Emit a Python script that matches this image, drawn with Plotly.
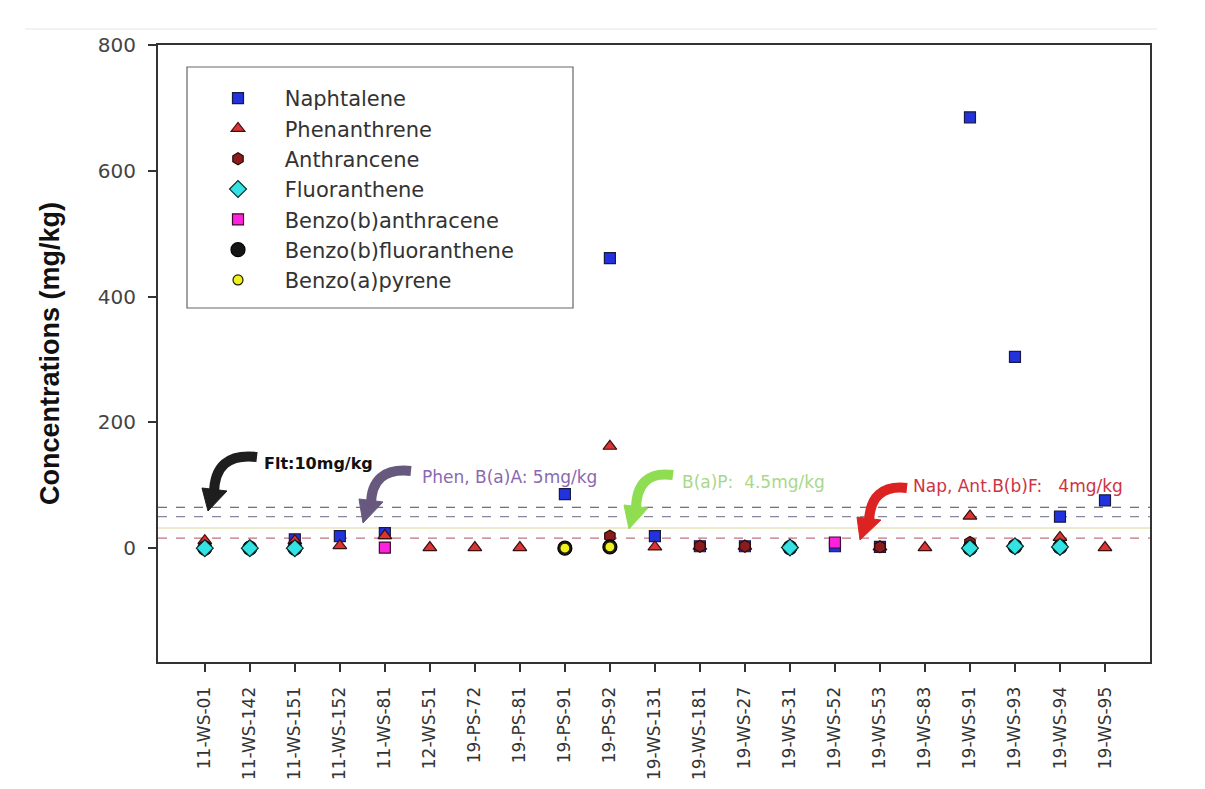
import plotly.graph_objects as go

# ---------------- data ----------------
categories = ["11-WS-01", "11-WS-142", "11-WS-151", "11-WS-152", "11-WS-81", "12-WS-51",
              "19-PS-72", "19-PS-81", "19-PS-91", "19-PS-92", "19-WS-131", "19-WS-181",
              "19-WS-27", "19-WS-31", "19-WS-52", "19-WS-53", "19-WS-83", "19-WS-91",
              "19-WS-93", "19-WS-94", "19-WS-95"]

naphtalene = [None, None, 14, 19, 24, None, None, None, 86, 461, 19, 3,
              3, None, 3, 2, None, 685, 304, 50, 76]
phenanthrene = [12, None, 12, 4, 20, 1, 1, 1, None, 162, 2, 3,
                3, None, None, 2, 1, 51, None, 17, 1]
anthrancene = [None, None, None, None, None, None, None, None, None, 19, None, 3,
               3, None, None, 2, None, 9, 5, None, None]
fluoranthene = [0, 0, 0, None, None, None, None, None, None, None, None, None,
                None, 1, None, None, None, 0, 3, 2, None]
benzo_b_anthracene = [None, None, None, None, 1, None, None, None, None, None, None, None,
                      None, None, 9, None, None, None, None, None, None]
benzo_b_fluoranthene = [0, 0, 0, None, None, None, None, None, 0, 2, None, None,
                        None, 1, None, None, None, 0, 3, 2, None]
benzo_a_pyrene = [None, None, None, None, None, None, None, None, 0, 2, None, None,
                  None, None, None, None, None, None, None, None, None]

# guideline levels (as drawn on the chart)
guide_levels = [65, 50, 32, 16]
guide_colors = ["#4a4a5a", "#6a6a88", "#d8d898", "#b05060"]
guide_dash = ["dash", "dash", "solid", "dash"]

y_ticks = [0, 200, 400, 600, 800]

# ---------------- layout geometry (pixels) ----------------
W, H = 1205, 789
L, R, T, B = 158, 1150, 45, 662


def px(x, y):
    return (x - L) / (R - L), (B - y) / (B - T)


fig = go.Figure()

series = [
    # name, data, symbol, size, fill, line color, legend rank
    ("Naphtalene", naphtalene, "square", 11, "#2233dd", "#1a1a40", 1),
    ("Phenanthrene", phenanthrene, "triangle-up", 12, "#dd3333", "#3a1010", 2),
    ("Anthrancene", anthrancene, "hexagon", 12, "#8b1c1c", "#2a0a0a", 3),
    ("Benzo(b)fluoranthene", benzo_b_fluoranthene, "circle", 14, "#151515", "#000000", 6),
    ("Fluoranthene", fluoranthene, "diamond", 13, "#33e3e3", "#0a2a2a", 4),
    ("Benzo(b)anthracene", benzo_b_anthracene, "square", 11, "#ff22dd", "#3a0a30", 5),
    ("Benzo(a)pyrene", benzo_a_pyrene, "circle", 10, "#f0f020", "#202000", 7),
]

for name, vals, sym, size, fill, lc, rank in series:
    fig.add_trace(go.Scatter(
        x=categories, y=vals, mode="markers", name="\u00a0\u00a0\u00a0\u00a0" + name,
        legendrank=rank, legendgroup=name,
        marker=dict(symbol=sym, size=size, color=fill, line=dict(color=lc, width=1.2)),
    ))

# horizontal guideline levels
for lvl, col, dsh in zip(guide_levels, guide_colors, guide_dash):
    fig.add_hline(y=lvl, line=dict(color=col, width=1, dash=dsh), layer="below")

# ---------------- curved arrows ----------------
shapes = []


def arrow(start, ctrl, end, head, color):
    (x0, y0), (cx, cy), (x1, y1) = px(*start), px(*ctrl), px(*end)
    shapes.append(dict(type="path", xref="paper", yref="paper",
                       path=f"M {x0},{y0} Q {cx},{cy} {x1},{y1}",
                       line=dict(color=color, width=10), fillcolor="rgba(0,0,0,0)"))
    pts = [px(*p) for p in head]
    p = "M " + " L ".join(f"{a},{b}" for a, b in pts) + " Z"
    shapes.append(dict(type="path", xref="paper", yref="paper", path=p,
                       line=dict(color=color, width=1), fillcolor=color))


arrow((257, 457), (214, 452), (214, 494), [(202, 488), (227, 491), (208, 511)], "#1e1e1e")
arrow((411, 471), (371, 467), (371, 505), [(359, 499), (383, 502), (363, 523)], "#67597e")
arrow((673, 475), (636, 470), (636, 510), [(624, 505), (648, 508), (629, 529)], "#8fdd50")
arrow((907, 488), (870, 484), (869, 522), [(857, 517), (881, 520), (860, 540)], "#dd2222")

# legend frame
lx0, ly0 = px(187, 308)
lx1, ly1 = px(573, 67)
shapes.append(dict(type="rect", xref="paper", yref="paper", x0=lx0, y0=ly0, x1=lx1, y1=ly1,
                   line=dict(color="#666666", width=1.2), fillcolor="rgba(0,0,0,0)"))

# faint top rule of the original figure
ax0, ay0 = px(25, 29)
ax1, _ = px(1157, 29)
shapes.append(dict(type="line", xref="paper", yref="paper", x0=ax0, x1=ax1, y0=ay0, y1=ay0,
                   line=dict(color="#e6e6e6", width=1)))

fig.update_layout(shapes=list(fig.layout.shapes) + shapes)

# ---------------- text labels ----------------
labels = [
    ("Flt:10mg/kg", 262, 463, "#111111", 16, "bold"),
    ("Phen, B(a)A: 5mg/kg", 420, 477, "#8a68b0", 17, "normal"),
    ("B(a)P:  4.5mg/kg", 680, 482, "#a8d888", 17, "normal"),
    ("Nap, Ant.B(b)F:   4mg/kg", 911, 486, "#cc3344", 17, "normal"),
]
for txt, x, y, col, fs, wt in labels:
    xp, yp = px(x, y)
    fig.add_annotation(x=xp, y=yp, xref="paper", yref="paper", text=txt.replace("  ", "\u00a0\u00a0"),
                       showarrow=False, xanchor="left", yanchor="middle",
                       font=dict(color=col, size=fs, family="DejaVu Sans", weight=wt))

lgx, lgy = px(218, 78)

fig.update_layout(
    width=W, height=H,
    margin=dict(l=L, r=W - R, t=T, b=H - B, pad=0, autoexpand=False),
    paper_bgcolor="white", plot_bgcolor="white",
    font=dict(family="DejaVu Sans, Liberation Sans, sans-serif", color="#333333"),
    showlegend=True,
    legend=dict(x=lgx, y=lgy, xanchor="left", yanchor="top",
                bgcolor="rgba(0,0,0,0)", borderwidth=0,
                font=dict(size=21, color="#333333", family="DejaVu Sans"),
                tracegroupgap=0, itemsizing="trace"),
    xaxis=dict(type="category", categoryorder="array", categoryarray=categories,
               range=[-1.04, 21.0], showline=True, mirror=True, linecolor="#333333", linewidth=2,
               ticks="outside", ticklen=8, tickwidth=1.5, tickcolor="#333333",
               ticklabelstandoff=8, automargin=False,
               tickangle=-90, tickfont=dict(size=17, color="#333333", family="DejaVu Sans"),
               showgrid=False, zeroline=False),
    yaxis=dict(range=[-181, 800], tickvals=y_ticks, showline=True, mirror=True,
               linecolor="#333333", linewidth=2, ticks="outside", ticklen=8, tickwidth=1.5,
               ticklabelstandoff=8, automargin=False,
               tickcolor="#333333", tickfont=dict(size=20, color="#444444", family="DejaVu Sans"),
               showgrid=False, zeroline=False,
               title=dict(text="Concentrations (mg/kg)", standoff=30,
                          font=dict(size=27, color="#111111", weight="bold",
                                    family="Liberation Sans"))),
)

fig.write_html("out.html")
